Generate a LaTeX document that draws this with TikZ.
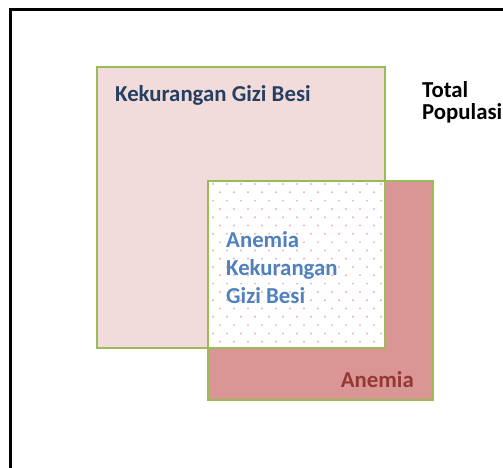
\documentclass[tikz,border=0pt]{standalone}
\usepackage{fontspec}
\setmainfont{Carlito}
\definecolor{boxgreen}{HTML}{9BBB59}
\definecolor{lightpink}{HTML}{F2DCDB}
\definecolor{darkpink}{HTML}{D99694}
\definecolor{dotpink}{HTML}{EBB3B2}
\definecolor{navytext}{HTML}{243F60}
\definecolor{bluetext}{HTML}{4F81BD}
\definecolor{redtext}{HTML}{953735}
\tikzset{
  setbox/.style={draw=boxgreen, line width=2.8pt},
  lbl/.style={inner sep=0pt, anchor=base west, font=\bfseries\fontsize{22.8}{26}\selectfont},
}
\begin{document}
\begin{tikzpicture}[x=1pt,y=-1pt]
\useasboundingbox (0,0) rectangle (503,467);
% outer frame (only left and top visible)
\draw[line width=3pt, line cap=rect] (10,470) -- (10,9.5) -- (506,9.5);
% fills
\fill[lightpink] (97,67) rectangle (385,348);
\fill[darkpink] (208,181) rectangle (433,400);
\fill[white] (208,181) rectangle (385,348);
\begin{scope}
\clip (208,181) rectangle (385,348);
\foreach \r in {0,...,20} {
  \foreach \c in {0,...,13} {
    \pgfmathsetmacro{\xx}{213+\c*14+mod(\r,2)*7}
    \pgfmathsetmacro{\yy}{184+\r*8.3}
    \fill[dotpink] (\xx,\yy) circle (1.1);
  }
}
\end{scope}
% borders
\draw[setbox] (97,67) rectangle (385,348);
\draw[setbox] (208,181) rectangle (433,400);
% labels
\node[lbl, text=navytext] (kgb) at (115,101) {Kekurangan Gizi Besi};
\node[lbl, text=black, align=left, font=\bfseries\fontsize{22.8}{22}\selectfont] (total) at (422,119) {Total\\Populasi};
\node[lbl, text=bluetext, align=left, font=\bfseries\fontsize{22.8}{28}\selectfont] (ankgb) at (226,303) {Anemia\\Kekurangan\\Gizi Besi};
\node[lbl, text=redtext, anchor=base east] (anemia) at (414,387) {Anemia};
\end{tikzpicture}
\end{document}
